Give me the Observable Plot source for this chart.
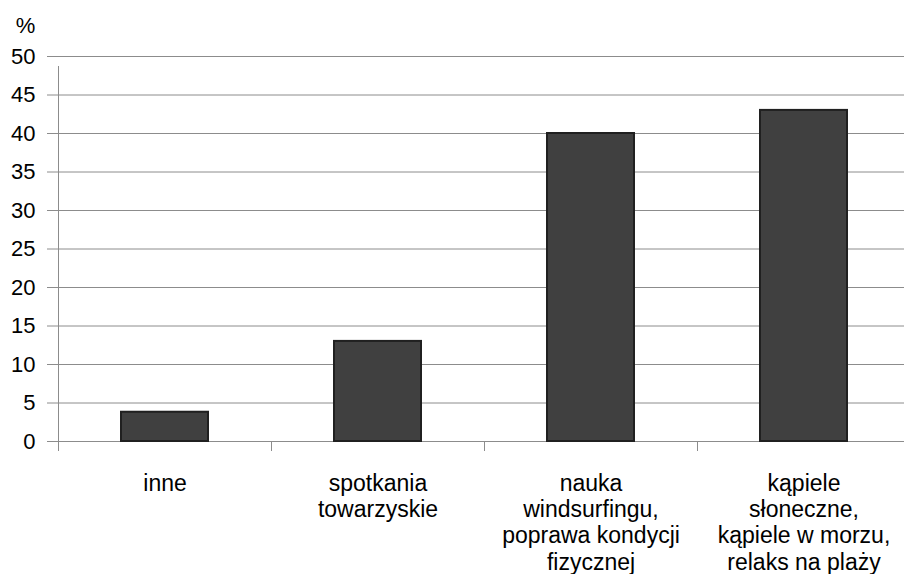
<!DOCTYPE html>
<html>
<head>
<meta charset="utf-8">
<script src="https://cdn.jsdelivr.net/npm/d3@7"></script>
<script src="https://cdn.jsdelivr.net/npm/@observablehq/plot@0.6"></script>
<style>
  html, body { margin: 0; padding: 0; background: #fff; overflow: hidden; width: 904px; height: 574px; }
  #chart svg { display: block; max-width: none !important; font-family: "Liberation Sans", Arial, sans-serif; }
</style>
</head>
<body>
<div id="chart"></div>
<script>
const categories = [
  "inne",
  "spotkania\ntowarzyskie",
  "nauka\nwindsurfingu,\npoprawa kondycji\nfizycznej",
  "kąpiele\nsłoneczne,\nkąpiele w morzu,\nrelaks na plaży"
];
const values = [3.8, 13, 40, 43];
const yTicks = [0, 5, 10, 15, 20, 25, 30, 35, 40, 45, 50];
const unitLabel = "%";

const data = categories.map((c, i) => ({ category: c, index: i, value: values[i] }));
const boundaries = d3.range(categories.length + 1);

const chart = Plot.plot({
  width: 910,
  height: 574,
  marginLeft: 58,
  marginRight: 0,
  marginTop: 56,
  marginBottom: 133,
  style: { fontFamily: "'Liberation Sans', Arial, sans-serif", fontSize: "22px", color: "#000", background: "#fff", maxWidth: "none" },
  x: { type: "linear", domain: [0, categories.length], axis: null },
  y: { domain: [0, 50], axis: null },
  marks: [
    Plot.ruleY(yTicks, { stroke: "#8c8c8c", strokeWidth: 1, insetLeft: -11 }),
    Plot.text(yTicks, { x: 0, y: d => d, text: d => String(d), textAnchor: "end", dx: -23, fontSize: 22, fill: "#000" }),
    Plot.ruleX([0], { y1: 0, y2: 50, stroke: "#8c8c8c", strokeWidth: 1, insetBottom: -10 }),
    Plot.ruleX(boundaries, { x: d => d, y1: 0, y2: 0, insetBottom: -10, stroke: "#8c8c8c", strokeWidth: 1 }),
    Plot.rectY(data, {
      x1: d => d.index, x2: d => d.index + 1, y1: 0, y2: "value",
      insetLeft: 63, insetRight: 63,
      fill: "#404040", stroke: "#202020", strokeWidth: 2
    }),
    Plot.text(data, {
      x: d => d.index + 0.5, y: 0, text: "category",
      lineAnchor: "top", dy: 30.5, fontSize: 23, lineHeight: 1.145, fill: "#000"
    }),
    Plot.text([unitLabel], { x: 0, y: 50, text: d => d, dx: -33, dy: -31, fontSize: 22, fill: "#000" })
  ]
});
document.getElementById("chart").append(chart);
</script>
</body>
</html>
